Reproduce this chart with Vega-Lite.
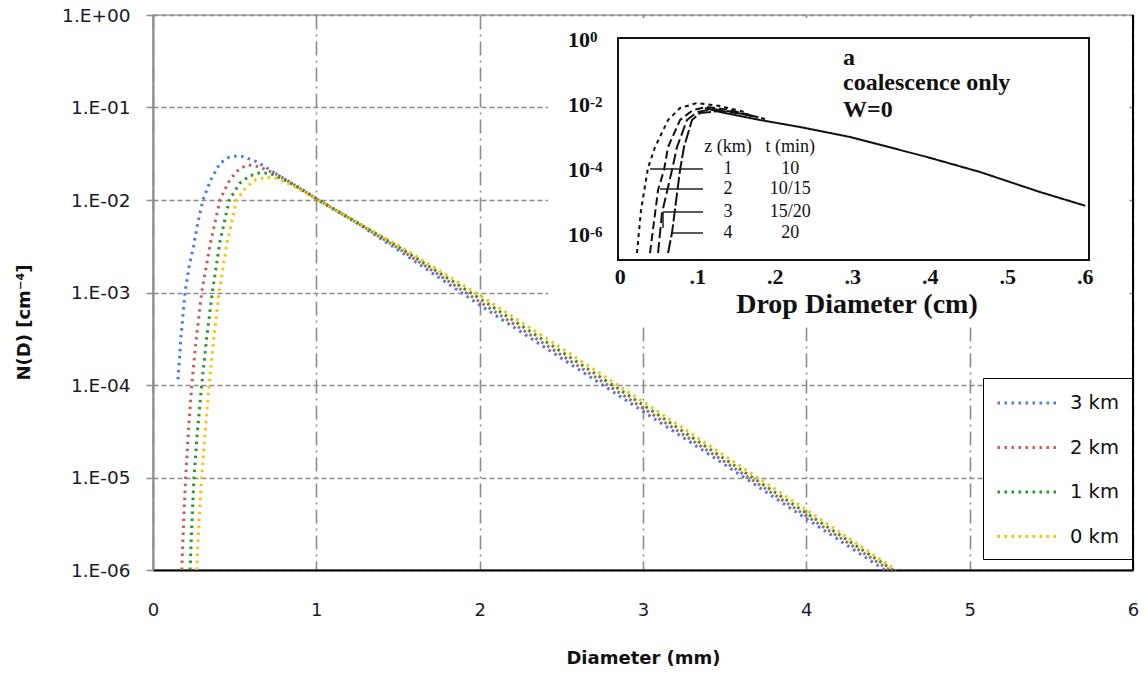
{
 "$schema": "https://vega.github.io/schema/vega-lite/v6.json",
 "width": 980,
 "height": 555,
 "autosize": {"type": "none"},
 "padding": {"left": 153, "top": 15, "right": 13, "bottom": 105},
 "background": "#ffffff",
 "datasets": {
  "main": [
   {"s":"3 km","d":0.153,"n":1.15e-4},{"s":"3 km","d":0.171,"n":3.24e-4},{"s":"3 km","d":0.196,"n":1.0e-3},{"s":"3 km","d":0.22,"n":1.86e-3},{"s":"3 km","d":0.248,"n":3.16e-3},{"s":"3 km","d":0.275,"n":5.75e-3},{"s":"3 km","d":0.306,"n":0.01},{"s":"3 km","d":0.353,"n":0.01644},{"s":"3 km","d":0.41,"n":0.02495},{"s":"3 km","d":0.461,"n":0.02877},{"s":"3 km","d":0.514,"n":0.02992},{"s":"3 km","d":0.553,"n":0.02938},{"s":"3 km","d":0.635,"n":0.02594},{"s":"3 km","d":0.716,"n":0.02109},{"s":"3 km","d":0.798,"n":0.01714},{"s":"3 km","d":0.88,"n":0.01393},{"s":"3 km","d":1.0,"n":0.01042},{"s":"3 km","d":1.25,"n":5.62e-3},{"s":"3 km","d":1.5,"n":2.88e-3},{"s":"3 km","d":2,"n":7.33e-4},{"s":"3 km","d":2.5,"n":1.95e-4},{"s":"3 km","d":3,"n":5.19e-5},{"s":"3 km","d":3.5,"n":1.38e-5},{"s":"3 km","d":4,"n":3.59e-6},{"s":"3 km","d":4.48,"n":1e-6},
   {"s":"2 km","d":0.176,"n":1e-6},{"s":"2 km","d":0.187,"n":3.16e-6},{"s":"2 km","d":0.2,"n":1e-5},{"s":"2 km","d":0.217,"n":3.16e-5},{"s":"2 km","d":0.237,"n":1e-4},{"s":"2 km","d":0.265,"n":3.16e-4},{"s":"2 km","d":0.298,"n":1e-3},{"s":"2 km","d":0.35,"n":3.31e-3},{"s":"2 km","d":0.41,"n":0.01},{"s":"2 km","d":0.47,"n":0.0166},{"s":"2 km","d":0.53,"n":0.02188},{"s":"2 km","d":0.583,"n":0.02399},{"s":"2 km","d":0.65,"n":0.02291},{"s":"2 km","d":0.75,"n":0.01928},{"s":"2 km","d":0.85,"n":0.01514},{"s":"2 km","d":1.0,"n":0.01035},{"s":"2 km","d":1.25,"n":5.66e-3},{"s":"2 km","d":1.5,"n":3.02e-3},{"s":"2 km","d":2,"n":7.94e-4},{"s":"2 km","d":2.5,"n":2.11e-4},{"s":"2 km","d":3,"n":5.62e-5},{"s":"2 km","d":3.5,"n":1.48e-5},{"s":"2 km","d":4,"n":3.85e-6},{"s":"2 km","d":4.51,"n":1e-6},
   {"s":"1 km","d":0.227,"n":1e-6},{"s":"1 km","d":0.238,"n":3.16e-6},{"s":"1 km","d":0.251,"n":1e-5},{"s":"1 km","d":0.272,"n":3.16e-5},{"s":"1 km","d":0.298,"n":1e-4},{"s":"1 km","d":0.328,"n":3.16e-4},{"s":"1 km","d":0.363,"n":1e-3},{"s":"1 km","d":0.41,"n":3.55e-3},{"s":"1 km","d":0.467,"n":0.01},{"s":"1 km","d":0.53,"n":0.01514},{"s":"1 km","d":0.59,"n":0.0182},{"s":"1 km","d":0.655,"n":0.01972},{"s":"1 km","d":0.72,"n":0.01928},{"s":"1 km","d":0.8,"n":0.0166},{"s":"1 km","d":0.9,"n":0.01349},{"s":"1 km","d":1.0,"n":0.01028},{"s":"1 km","d":1.25,"n":5.71e-3},{"s":"1 km","d":1.5,"n":3.13e-3},{"s":"1 km","d":2,"n":8.61e-4},{"s":"1 km","d":2.5,"n":2.29e-4},{"s":"1 km","d":3,"n":6.1e-5},{"s":"1 km","d":3.5,"n":1.58e-5},{"s":"1 km","d":4,"n":4.12e-6},{"s":"1 km","d":4.53,"n":1e-6},
   {"s":"0 km","d":0.267,"n":1e-6},{"s":"0 km","d":0.281,"n":3.16e-6},{"s":"0 km","d":0.298,"n":1e-5},{"s":"0 km","d":0.32,"n":3.16e-5},{"s":"0 km","d":0.343,"n":1e-4},{"s":"0 km","d":0.372,"n":3.16e-4},{"s":"0 km","d":0.404,"n":1e-3},{"s":"0 km","d":0.455,"n":3.55e-3},{"s":"0 km","d":0.512,"n":0.01},{"s":"0 km","d":0.57,"n":0.0138},{"s":"0 km","d":0.63,"n":0.0166},{"s":"0 km","d":0.696,"n":0.01758},{"s":"0 km","d":0.76,"n":0.01718},{"s":"0 km","d":0.85,"n":0.01445},{"s":"0 km","d":0.92,"n":0.0123},{"s":"0 km","d":1.0,"n":0.01023},{"s":"0 km","d":1.25,"n":5.75e-3},{"s":"0 km","d":1.5,"n":3.24e-3},{"s":"0 km","d":2,"n":9.33e-4},{"s":"0 km","d":2.5,"n":2.51e-4},{"s":"0 km","d":3,"n":6.61e-5},{"s":"0 km","d":3.5,"n":1.72e-5},{"s":"0 km","d":4,"n":4.47e-6},{"s":"0 km","d":4.55,"n":1e-6}
  ],
  "ic": [
   {"c":"s","x":0.1093,"y":8.07e-3},{"c":"s","x":0.1287,"y":6.08e-3},{"c":"s","x":0.1803,"y":3.45e-3},{"c":"s","x":0.232,"y":2.10e-3},{"c":"s","x":0.2965,"y":1.035e-3},{"c":"s","x":0.3958,"y":2.51e-4},{"c":"s","x":0.4643,"y":8.67e-5},{"c":"s","x":0.5417,"y":2.1e-5},{"c":"s","x":0.6,"y":7.96e-6},
   {"c":"1","x":0.0215,"y":2.79e-7},{"c":"1","x":0.0267,"y":5.86e-6},{"c":"1","x":0.0357,"y":1.15e-4},{"c":"1","x":0.0448,"y":5.09e-4},{"c":"1","x":0.0616,"y":3.45e-3},{"c":"1","x":0.0771,"y":8.07e-3},{"c":"1","x":0.099,"y":0.0115},{"c":"1","x":0.1287,"y":9.3e-3},{"c":"1","x":0.161,"y":6.08e-3},
   {"c":"2","x":0.0383,"y":2.79e-7},{"c":"2","x":0.0487,"y":2.42e-5},{"c":"2","x":0.0564,"y":1e-4},{"c":"2","x":0.0616,"y":5.09e-4},{"c":"2","x":0.0771,"y":3.45e-3},{"c":"2","x":0.0938,"y":7.0e-3},{"c":"2","x":0.1119,"y":8.65e-3},{"c":"2","x":0.1416,"y":7.0e-3},{"c":"2","x":0.1674,"y":4.91e-3},
   {"c":"3","x":0.0487,"y":2.79e-7},{"c":"3","x":0.0538,"y":4.74e-6},{"c":"3","x":0.0667,"y":1e-4},{"c":"3","x":0.0732,"y":5.09e-4},{"c":"3","x":0.086,"y":3.45e-3},{"c":"3","x":0.099,"y":6.08e-3},{"c":"3","x":0.1196,"y":7.52e-3},{"c":"3","x":0.148,"y":6.08e-3},{"c":"3","x":0.1738,"y":4.27e-3},
   {"c":"4","x":0.0616,"y":2.79e-7},{"c":"4","x":0.0667,"y":1.15e-6},{"c":"4","x":0.0771,"y":1e-4},{"c":"4","x":0.0822,"y":5.09e-4},{"c":"4","x":0.0925,"y":3.45e-3},{"c":"4","x":0.1029,"y":5.66e-3},{"c":"4","x":0.1287,"y":6.52e-3},{"c":"4","x":0.161,"y":5.27e-3},{"c":"4","x":0.1868,"y":3.7e-3}
  ],
  "iy": [{"v":1,"e":"0"},{"v":0.01,"e":"-2"},{"v":0.0001,"e":"-4"},{"v":0.000001,"e":"-6"}],
  "ix": [{"v":0,"t":"0"},{"v":0.1,"t":".1"},{"v":0.2,"t":".2"},{"v":0.3,"t":".3"},{"v":0.4,"t":".4"},{"v":0.5,"t":".5"},{"v":0.6,"t":".6"}],
  "notes": [{"x":0.2875,"y":0.17,"t":"a"},{"x":0.2875,"y":0.0289,"t":"coalescence only"},{"x":0.2875,"y":0.00427,"t":"W=0"}],
  "tbl": [
   {"x":0.139,"y":5.09e-4,"t":"z (km)"},{"x":0.2193,"y":5.09e-4,"t":"t (min)"},
   {"x":0.139,"y":1.07e-4,"t":"1"},{"x":0.2193,"y":1.07e-4,"t":"10"},
   {"x":0.139,"y":2.6e-5,"t":"2"},{"x":0.2193,"y":2.6e-5,"t":"10/15"},
   {"x":0.139,"y":5.09e-6,"t":"3"},{"x":0.2193,"y":5.09e-6,"t":"15/20"},
   {"x":0.139,"y":1.15e-6,"t":"4"},{"x":0.2193,"y":1.15e-6,"t":"20"}
  ],
  "lead": [
   {"x1":0.0383,"x2":0.1067,"y1":1.07e-4,"y2":1.07e-4},
   {"x1":0.0512,"x2":0.1067,"y1":2.6e-5,"y2":2.6e-5},
   {"x1":0.0551,"x2":0.1067,"y1":5.09e-6,"y2":5.09e-6},
   {"x1":0.0551,"x2":0.0551,"y1":5.09e-6,"y2":1.64e-6},
   {"x1":0.0667,"x2":0.1067,"y1":1.15e-6,"y2":1.15e-6}
  ]
 },
 "layer": [
  {
   "layer": [
    {
     "data": {"values": [{"d": 2.418, "d2": 5.97, "n": 4.45e-4, "n2": 0.928}]},
     "mark": {"type": "rect", "fill": "#ffffff"},
     "encoding": {
      "x": {"field": "d", "type": "quantitative"},
      "x2": {"field": "d2"},
      "y": {"field": "n", "type": "quantitative"},
      "y2": {"field": "n2"}
     }
    },
    {
     "data": {"name": "main"},
     "mark": {"type": "line", "strokeWidth": 3, "strokeDash": [2.5, 4.5], "strokeCap": "butt"},
     "encoding": {
      "x": {"field": "d", "type": "quantitative",
        "scale": {"domain": [0, 6], "nice": false, "zero": false},
        "axis": {"values": [0,1,2,3,4,5,6], "format": "d", "title": "Diameter (mm)",
          "titleFont": "DejaVu Sans", "titleFontSize": 18, "titleFontWeight": "bold", "titleColor": "#111111",
          "titleY": 88, "titleBaseline": "middle",
          "labelFont": "DejaVu Sans", "labelFontSize": 18, "labelColor": "#1a1a2a", "labelPadding": 31, "labelFlush": false, "labelOverlap": false,
          "ticks": false, "tickSize": 0, "domainColor": "#000000", "domainWidth": 2,
          "grid": true, "gridColor": "#8c8c8c", "gridWidth": 1.6, "gridDash": [14, 5, 2, 5]}},
      "y": {"field": "n", "type": "quantitative",
        "scale": {"type": "log", "domain": [1e-6, 1], "nice": false},
        "axis": {"values": [0.000001, 0.00001, 0.0001, 0.001, 0.01, 0.1, 1],
          "labelExpr": "datum.value >= 0.99 ? '1.E+00' : '1.E-0' + format(-log(datum.value)/LN10, '.0f')",
          "title": "N(D) [cm⁻⁴]", "titleFont": "DejaVu Sans", "titleFontSize": 18, "titleFontWeight": "bold", "titleColor": "#111111",
          "titleX": -129, "titleY": 307, "titleAlign": "center", "titleBaseline": "middle", "titleAngle": -90,
          "labelFont": "DejaVu Sans", "labelFontSize": 18.5, "labelColor": "#1a1a2a", "labelPadding": 16, "labelOverlap": false,
          "tickSize": 7, "tickColor": "#8c8c8c", "tickWidth": 1.5,
          "domainColor": "#8c8c8c", "domainWidth": 2,
          "grid": true, "gridColor": "#8c8c8c", "gridWidth": 1.5, "gridDash": [5, 3]}},
      "color": {"field": "s", "type": "nominal",
        "scale": {"domain": ["3 km", "2 km", "1 km", "0 km"], "range": ["#4a78f0", "#c85c56", "#25992a", "#ffc000"]},
        "legend": {"orient": "none", "legendX": 830, "legendY": 363, "title": null,
          "strokeColor": "#000000", "fillColor": "#ffffff", "padding": 13,
          "symbolType": "M-3,0H3", "symbolSize": 441, "symbolStrokeWidth": 3, "symbolDash": [2.5, 4.5], "symbolOffset": 21,
          "labelFont": "DejaVu Sans", "labelFontSize": 19.5, "labelColor": "#111111", "labelOffset": 29, "rowPadding": 22.5}}
     }
    },
    {
     "data": {"values": [{"d": 6, "n": 1e-6, "n2": 1}]},
     "mark": {"type": "rule", "color": "#000000", "strokeWidth": 2},
     "encoding": {
      "x": {"field": "d", "type": "quantitative"},
      "y": {"field": "n", "type": "quantitative"},
      "y2": {"field": "n2"}
     }
    }
   ]
  },
  {
   "layer": [
    {
     "data": {"values": [{"x1": -0.003, "x2": 0.605, "y1": 1.7e-7, "y2": 1.15}]},
     "mark": {"type": "rect", "fillOpacity": 0, "stroke": "#111111", "strokeWidth": 2},
     "encoding": {
      "x": {"field": "x1", "type": "quantitative", "scale": {"domain": [-0.003, 0.605], "range": [465, 936], "nice": false, "zero": false}, "axis": null},
      "x2": {"field": "x2"},
      "y": {"field": "y1", "type": "quantitative", "scale": {"type": "log", "domain": [1.7e-7, 1.15], "range": [245, 23], "nice": false}, "axis": null},
      "y2": {"field": "y2"}
     }
    },
    {
     "data": {"name": "ic"},
     "mark": {"type": "line", "color": "#111111", "strokeWidth": 2},
     "encoding": {
      "x": {"field": "x", "type": "quantitative", "scale": {"domain": [-0.003, 0.605], "range": [465, 936], "nice": false, "zero": false}, "axis": null},
      "y": {"field": "y", "type": "quantitative", "scale": {"type": "log", "domain": [1.7e-7, 1.15], "range": [245, 23], "nice": false}, "axis": null},
      "strokeDash": {"field": "c", "type": "nominal", "scale": {"domain": ["1", "2", "3", "4", "s"], "range": [[4, 4], [8, 4], [11, 4], [13, 3], [1, 0]]}, "legend": null},
      "order": {"field": "x", "type": "quantitative"}
     }
    },
    {
     "data": {"name": "lead"},
     "mark": {"type": "rule", "color": "#222222", "strokeWidth": 1.5},
     "encoding": {
      "x": {"field": "x1", "type": "quantitative", "scale": {"domain": [-0.003, 0.605], "range": [465, 936], "nice": false, "zero": false}, "axis": null},
      "x2": {"field": "x2"},
      "y": {"field": "y1", "type": "quantitative", "scale": {"type": "log", "domain": [1.7e-7, 1.15], "range": [245, 23], "nice": false}, "axis": null},
      "y2": {"field": "y2"}
     }
    },
    {
     "data": {"name": "iy"},
     "mark": {"type": "text", "font": "Liberation Serif", "fontWeight": "bold", "fontSize": 22, "align": "right", "baseline": "alphabetic", "dy": 7, "color": "#111111"},
     "encoding": {
      "x": {"datum": -0.0391, "type": "quantitative", "scale": {"domain": [-0.003, 0.605], "range": [465, 936], "nice": false, "zero": false}, "axis": null},
      "y": {"field": "v", "type": "quantitative", "scale": {"type": "log", "domain": [1.7e-7, 1.15], "range": [245, 23], "nice": false}, "axis": null},
      "text": {"value": "10"}
     }
    },
    {
     "data": {"name": "iy"},
     "mark": {"type": "text", "font": "Liberation Serif", "fontWeight": "bold", "fontSize": 15, "align": "left", "baseline": "alphabetic", "dy": 2, "color": "#111111"},
     "encoding": {
      "x": {"datum": -0.0391, "type": "quantitative", "scale": {"domain": [-0.003, 0.605], "range": [465, 936], "nice": false, "zero": false}, "axis": null},
      "y": {"field": "v", "type": "quantitative", "scale": {"type": "log", "domain": [1.7e-7, 1.15], "range": [245, 23], "nice": false}, "axis": null},
      "text": {"field": "e"}
     }
    },
    {
     "data": {"name": "ix"},
     "mark": {"type": "text", "font": "Liberation Serif", "fontWeight": "bold", "fontSize": 22, "align": "center", "baseline": "alphabetic", "dy": 24, "color": "#111111"},
     "encoding": {
      "x": {"field": "v", "type": "quantitative", "scale": {"domain": [-0.003, 0.605], "range": [465, 936], "nice": false, "zero": false}, "axis": null},
      "y": {"datum": 1.7e-7, "type": "quantitative", "scale": {"type": "log", "domain": [1.7e-7, 1.15], "range": [245, 23], "nice": false}, "axis": null},
      "text": {"field": "t"}
     }
    },
    {
     "data": {"values": [{"x": 0.3055, "t": "Drop Diameter (cm)"}]},
     "mark": {"type": "text", "font": "Liberation Serif", "fontWeight": "bold", "fontSize": 28, "align": "center", "baseline": "alphabetic", "dy": 53, "color": "#111111"},
     "encoding": {
      "x": {"field": "x", "type": "quantitative", "scale": {"domain": [-0.003, 0.605], "range": [465, 936], "nice": false, "zero": false}, "axis": null},
      "y": {"datum": 1.7e-7, "type": "quantitative", "scale": {"type": "log", "domain": [1.7e-7, 1.15], "range": [245, 23], "nice": false}, "axis": null},
      "text": {"field": "t"}
     }
    },
    {
     "data": {"name": "notes"},
     "mark": {"type": "text", "font": "Liberation Serif", "fontWeight": "bold", "fontSize": 24, "align": "left", "baseline": "alphabetic", "color": "#111111"},
     "encoding": {
      "x": {"field": "x", "type": "quantitative", "scale": {"domain": [-0.003, 0.605], "range": [465, 936], "nice": false, "zero": false}, "axis": null},
      "y": {"field": "y", "type": "quantitative", "scale": {"type": "log", "domain": [1.7e-7, 1.15], "range": [245, 23], "nice": false}, "axis": null},
      "text": {"field": "t"}
     }
    },
    {
     "data": {"name": "tbl"},
     "mark": {"type": "text", "font": "Liberation Serif", "fontSize": 18, "align": "center", "baseline": "middle", "color": "#111111"},
     "encoding": {
      "x": {"field": "x", "type": "quantitative", "scale": {"domain": [-0.003, 0.605], "range": [465, 936], "nice": false, "zero": false}, "axis": null},
      "y": {"field": "y", "type": "quantitative", "scale": {"type": "log", "domain": [1.7e-7, 1.15], "range": [245, 23], "nice": false}, "axis": null},
      "text": {"field": "t"}
     }
    }
   ]
  }
 ],
 "resolve": {
  "scale": {"x": "independent", "y": "independent"},
  "axis": {"x": "independent", "y": "independent"}
 },
 "config": {
  "view": {"stroke": "#a6a6a6", "strokeWidth": 1.5},
  "font": "DejaVu Sans"
 }
}
